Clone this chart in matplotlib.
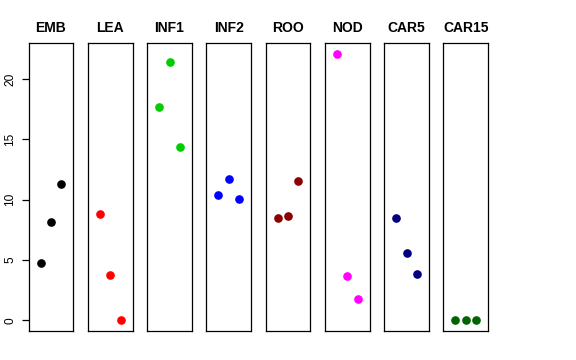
import matplotlib
matplotlib.use("Agg")
import matplotlib.pyplot as plt

plt.rcParams["font.family"] = ["Liberation Sans", "DejaVu Sans"]

tissues = ["EMB", "LEA", "INF1", "INF2", "ROO", "NOD", "CAR5", "CAR15"]
values = {
    "EMB": [4.72, 8.12, 11.27],
    "LEA": [8.78, 3.75, 0.0],
    "INF1": [17.7, 21.42, 14.33],
    "INF2": [10.36, 11.68, 10.08],
    "ROO": [8.5, 8.64, 11.52],
    "NOD": [22.09, 3.65, 1.74],
    "CAR5": [8.5, 5.6, 3.81],
    "CAR15": [0.0, 0.0, 0.0],
}
colors = ["black", "red", "#00CD00", "blue", "#8B0000", "magenta", "#000080", "#006400"]
reps = [1, 2, 3]
yticks = [0, 5, 10, 15, 20]

W, H = 576, 360
fig = plt.figure(figsize=(W / 100, H / 100), dpi=100)
ymin, ymax = -0.88, 23.0
left0, step, pw = 28.7, 59.25, 44.6
top, bottom = 42.7, 331.0

for i, (t, c) in enumerate(zip(tissues, colors)):
    x0 = left0 + i * step
    ax = fig.add_axes([x0 / W, 1 - bottom / H, pw / W, (bottom - top) / H])
    ax.plot(reps, values[t], "o", color=c, markersize=5.2, linestyle="none")
    ax.set_xlim(-0.16, 4.16)
    ax.set_ylim(ymin, ymax)
    ax.set_xticks([])
    ax.set_title(t, fontsize=10, fontweight="bold", pad=8)
    for s in ax.spines.values():
        s.set_linewidth(0.9)
        s.set_color("black")
    if i == 0:
        ax.set_yticks(yticks)
        ax.set_yticklabels([str(v) for v in yticks], rotation=90, va="center", fontsize=8.6)
        ax.tick_params(axis="y", length=5, width=0.9, pad=4)
    else:
        ax.set_yticks([])

fig.savefig("out.png", dpi=100)
